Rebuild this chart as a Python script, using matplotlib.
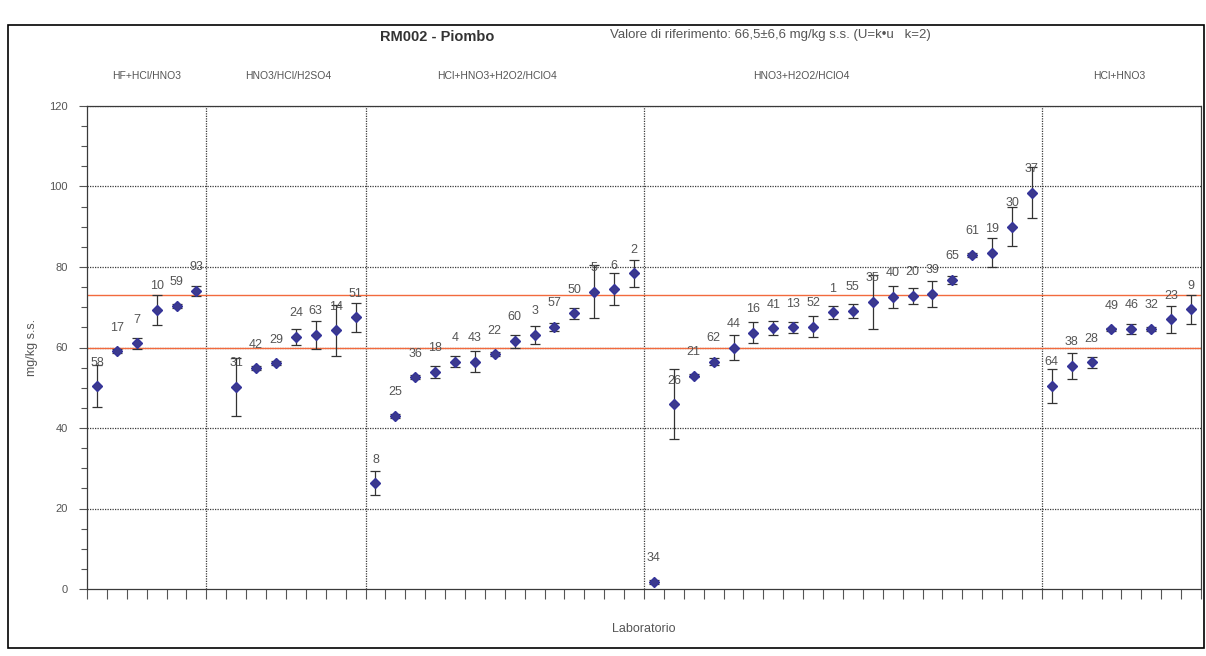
import numpy as np
import matplotlib
matplotlib.use("Agg")
import matplotlib.pyplot as plt
from matplotlib.patches import Rectangle
import matplotlib.transforms as mtransforms

plt.rcParams['font.family'] = ['Liberation Sans', 'DejaVu Sans']

# Laboratory codes in plotted order ("" = empty slot)
labs = ["58", "17", "7", "10", "59", "93",
        "", "31", "42", "29", "24", "63", "14", "51",
        "8", "25", "36", "18", "4", "43", "22", "60", "3", "57", "50", "5", "6", "2",
        "34", "26", "21", "62", "44", "16", "41", "13", "52", "1", "55", "35", "40",
        "20", "39", "65", "61", "19", "30", "37",
        "64", "38", "28", "49", "46", "32", "23", "9"]

# Measured lead content (mg/kg s.s.)
values = [50.4, 59.1, 61.0, 69.3, 70.3, 74.1,
          np.nan, 50.3, 54.8, 56.1, 62.7, 63.1, 64.3, 67.5,
          26.3, 43.0, 52.6, 54.0, 56.5, 56.5, 58.3, 61.6, 63.1, 65.2, 68.5, 73.9, 74.5, 78.4,
          1.8, 45.9, 53.0, 56.5, 60.0, 63.7, 64.8, 65.0, 65.2, 68.7, 69.1, 71.4, 72.6,
          72.9, 73.3, 76.8, 83.0, 83.6, 90.0, 98.5,
          50.5, 55.4, 56.3, 64.5, 64.6, 64.6, 67.0, 69.5]

# Expanded uncertainties
errors = [5.3, 0.5, 1.3, 3.8, 0.5, 1.2,
          np.nan, 7.2, 0.5, 0.5, 2.0, 3.5, 6.3, 3.6,
          3.0, 0.4, 0.5, 1.5, 1.3, 2.6, 0.5, 1.6, 2.3, 1.0, 1.3, 6.6, 3.9, 3.3,
          0.5, 8.7, 0.4, 0.8, 3.1, 2.6, 1.7, 1.3, 2.7, 1.7, 1.8, 6.7, 2.8,
          2.0, 3.3, 1.0, 0.5, 3.5, 4.9, 6.4,
          4.2, 3.3, 1.3, 0.4, 1.2, 0.4, 3.4, 3.6]

# Digestion methods and number of slots per method
methods = ["HF+HCl/HNO3", "HNO3/HCl/H2SO4", "HCl+HNO3+H2O2/HClO4",
           "HNO3+H2O2/HClO4", "HCl+HNO3"]
group_sizes = [6, 8, 14, 20, 8]
method_label_x = [3.0, 10.1, 20.6, 35.9, 51.9]

ref_value = 66.5
ref_unc = 6.6

fig = plt.figure(figsize=(12.06, 6.56), dpi=100)
ax = fig.add_axes([87 / 1206, 1 - 589 / 656, (1201 - 87) / 1206, (589 - 106) / 656])

n = len(labs)
x = np.arange(n) + 0.5
vals = np.array(values, dtype=float)
errs = np.array(errors, dtype=float)

grid_kw = dict(color='#3a3a3a', linestyle=(0, (1, 1)), linewidth=0.9)

# horizontal grid
for yv in range(20, 121, 20):
    ax.axhline(yv, zorder=1, **grid_kw)

# method separators
bounds = np.cumsum(group_sizes)[:-1]
for b in bounds:
    ax.axvline(b, zorder=1, **grid_kw)

# reference interval
ax.axhline(ref_value + ref_unc, color='#f26a3d', linewidth=1.0, zorder=2)
ax.axhline(ref_value - ref_unc, color='#f26a3d', linewidth=1.0, zorder=2)

ax.errorbar(x, vals, yerr=errs, fmt='D', color='#3c3a8e', markersize=5,
            markeredgecolor='#34339a', ecolor='#333333', elinewidth=0.9,
            capsize=3.5, capthick=0.9, zorder=4)

for xi, v, lab in zip(x, vals, labs):
    if lab and not np.isnan(v):
        ax.annotate(lab, (xi, v), xytext=(0, 17), textcoords='offset points',
                    ha='center', va='center', fontsize=9, color='#555555', zorder=5)

ax.set_xlim(0, n)
ax.set_ylim(0, 120)

ax.set_xticks(np.arange(0, n + 1))
ax.set_xticklabels([])
ax.set_yticks(range(0, 121, 20))
ax.set_yticks(range(0, 121, 5), minor=True)
ax.tick_params(axis='x', direction='out', length=7, width=0.8, color='#555555')
ax.tick_params(axis='y', which='major', direction='out', length=6, width=0.8,
               color='#555555', labelsize=8, labelcolor='#555555', pad=8)
ax.tick_params(axis='y', which='minor', direction='out', length=4, width=0.8,
               color='#555555')

for side in ['left', 'bottom', 'right', 'top']:
    ax.spines[side].set_color('#3a3a3a')
    ax.spines[side].set_linestyle((0, (1, 1)))
    ax.spines[side].set_linewidth(0.9)

ax.set_ylabel('mg/kg s.s.', fontsize=9, color='#555555', labelpad=8)
ax.set_xlabel('Laboratorio', fontsize=9, color='#555555', labelpad=14)

# method headers
trans = mtransforms.blended_transform_factory(ax.transData, ax.transAxes)
for mx, name in zip(method_label_x, methods):
    ax.text(mx, 1.062, name, transform=trans, ha='center', va='center',
            fontsize=7.5, color='#555555')

fig.text(437 / 1206, 1 - 37 / 656, 'RM002 - Piombo', ha='center', va='center',
         fontsize=10.5, fontweight='bold', color='#333333')
fig.text(610 / 1206, 1 - 35 / 656,
         'Valore di riferimento: 66,5±6,6 mg/kg s.s. (U=k•u   k=2)',
         ha='left', va='center', fontsize=9.5, color='#555555')

# outer frame
fig.patches.append(Rectangle((8 / 1206, 1 - 648 / 656), (1204 - 8) / 1206,
                             (648 - 25) / 656, transform=fig.transFigure,
                             fill=False, edgecolor='black', linewidth=1.2))

fig.savefig('out.png', dpi=100)
